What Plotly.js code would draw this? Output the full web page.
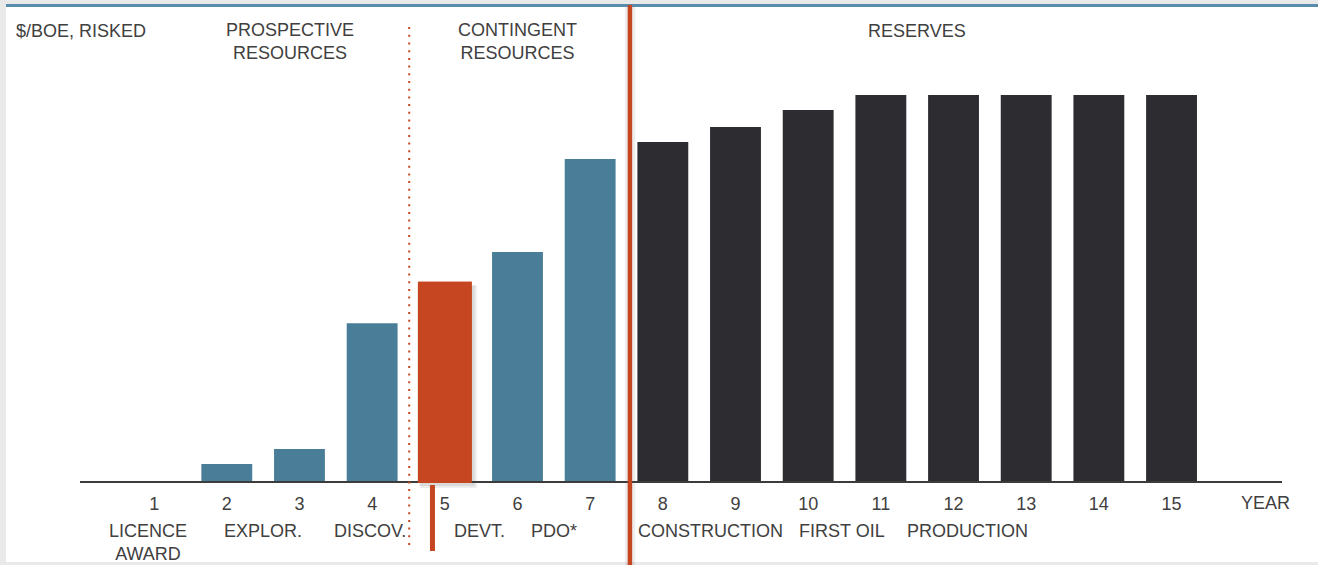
<!DOCTYPE html>
<html>
<head>
<meta charset="utf-8">
<script src="https://cdn.plot.ly/plotly-3.0.1.min.js"></script>
<style>
  html, body { margin: 0; padding: 0; background: #e9e9e9; }
  #chart { width: 1318px; height: 565px; }
</style>
</head>
<body>
<div id="chart"></div>
<script>
// Value per risked barrel over the life of a field, years 1-15
const years = [1, 2, 3, 4, 5, 6, 7, 8, 9, 10, 11, 12, 13, 14, 15];
const yearLabels = ['1', '2', '3', '4', '5', '6', '7', '8', '9', '10', '11', '12', '13', '14', '15'];
const values = [0, 4.4, 8.3, 40.9, 51.6, 59.3, 83.4, 87.8, 91.7, 96.1, 100, 100, 100, 100, 100];
const phases = ['resource', 'resource', 'resource', 'resource', 'decision', 'resource', 'resource',
                'reserve', 'reserve', 'reserve', 'reserve', 'reserve', 'reserve', 'reserve', 'reserve'];

const stageLabels = ['LICENCE<br>AWARD', 'EXPLOR.', 'DISCOV.', 'DEVT.', 'PDO*', 'CONSTRUCTION', 'FIRST OIL', 'PRODUCTION'];
const classLabels = ['PROSPECTIVE<br>RESOURCES', 'CONTINGENT<br>RESOURCES', 'RESERVES'];
const unitLabel = '$/BOE, RISKED';
const axisLabel = 'YEAR';

// ---- styling and placement ----
const W = 1318, H = 565;
const M = { l: 80, r: 36, t: 95, b: 84 };
const plotW = W - M.l - M.r, plotH = H - M.t - M.b;
const xRange = [-0.02, 16.52];
const yMax = 100;

const colors = { resource: '#4a7e98', decision: '#c54620', reserve: '#2c2c31' };
const red = '#c54620';
const textColor = '#404040';
const fontFamily = '"Liberation Sans", Arial, Helvetica, sans-serif';
const fontSize = 18;

// pixel helpers for decorations that sit outside the plotting area
const px2paperX = p => (p - M.l) / plotW;
const px2paperY = p => (M.t + plotH - p) / plotH;
const val2paperY = v => v / yMax;

const stageX = [0.91, 2.5, 3.97, 5.48, 6.5, 8.66, 10.47, 12.19];
const classX = [2.87, 6.0, 11.5];
const decisionIdx = phases.indexOf('decision');
const barHalf = 0.35;
const decisionHalf = 0.37;

const barTrace = {
  type: 'bar',
  x: years,
  y: values,
  width: years.map((_, i) => i === decisionIdx ? decisionHalf * 2 : barHalf * 2),
  marker: { color: phases.map(p => colors[p]), line: { width: 0 } },
  hoverinfo: 'x+y',
  showlegend: false
};

const txt = (text, x, y, opts) => Object.assign({
  text, x, y, showarrow: false,
  font: { family: fontFamily, size: fontSize, color: textColor },
  xanchor: 'center', yanchor: 'middle'
}, opts);

const annotations = [];
annotations.push(txt(unitLabel, px2paperX(14), px2paperY(31), { xref: 'paper', yref: 'paper', xanchor: 'left' }));
classLabels.forEach((t, i) => {
  const twoLine = t.indexOf('<br>') >= 0;
  annotations.push(txt(t, classX[i], px2paperY(twoLine ? 42 : 31), { xref: 'x', yref: 'paper' }));
});
stageLabels.forEach((t, i) => {
  const twoLine = t.indexOf('<br>') >= 0;
  annotations.push(txt(t, stageX[i], px2paperY(twoLine ? 542 : 531), { xref: 'x', yref: 'paper' }));
});
annotations.push(txt(axisLabel, 16.29, px2paperY(503), { xref: 'x', yref: 'paper' }));

const dv = years[decisionIdx];
const shapes = [
  // white card on grey page
  { type: 'rect', xref: 'paper', yref: 'paper', layer: 'below',
    x0: px2paperX(6), x1: px2paperX(W), y0: px2paperY(562), y1: px2paperY(7),
    fillcolor: '#ffffff', line: { width: 0 } },
  // blue rule along the top
  { type: 'rect', xref: 'paper', yref: 'paper', layer: 'below',
    x0: px2paperX(6), x1: px2paperX(W), y0: px2paperY(7), y1: px2paperY(4),
    fillcolor: '#5a8dab', line: { width: 0 } },
  // soft shadow of the decision bar
  { type: 'rect', xref: 'x', yref: 'paper', layer: 'below',
    x0: dv - decisionHalf + 0.03, x1: dv + decisionHalf + 0.07,
    y0: px2paperY(488), y1: val2paperY(values[decisionIdx]) - 0.008,
    fillcolor: 'rgba(0,0,0,0.07)', line: { width: 0 } },
  { type: 'rect', xref: 'x', yref: 'paper', layer: 'below',
    x0: dv - decisionHalf + 0.02, x1: dv + decisionHalf + 0.04,
    y0: px2paperY(486), y1: val2paperY(values[decisionIdx]) - 0.01,
    fillcolor: 'rgba(0,0,0,0.08)', line: { width: 0 } },
  // decision bar reaching just under the baseline
  { type: 'rect', xref: 'x', yref: 'paper', layer: 'above',
    x0: dv - decisionHalf, x1: dv + decisionHalf,
    y0: px2paperY(483), y1: val2paperY(values[decisionIdx]),
    fillcolor: red, line: { width: 0 } },
  // pointer below the decision bar
  { type: 'line', xref: 'x', yref: 'paper', layer: 'above',
    x0: 4.83, x1: 4.83, y0: px2paperY(551), y1: px2paperY(485),
    line: { color: red, width: 5 } },
  // dotted boundary prospective / contingent
  { type: 'line', xref: 'x', yref: 'paper', layer: 'above',
    x0: 4.51, x1: 4.51, y0: px2paperY(545), y1: px2paperY(22),
    line: { color: red, width: 2, dash: '2px,5.7px' } },
  // shadow of the reserves boundary
  { type: 'rect', xref: 'x', yref: 'paper', layer: 'below',
    x0: 7.48, x1: 7.62, y0: px2paperY(H), y1: px2paperY(7),
    fillcolor: 'rgba(0,0,0,0.07)', line: { width: 0 } },
  // reserves boundary
  { type: 'line', xref: 'x', yref: 'paper', layer: 'above',
    x0: 7.547, x1: 7.547, y0: px2paperY(H), y1: px2paperY(5),
    line: { color: red, width: 4.5 } }
];

const layout = {
  width: W, height: H,
  margin: M,
  paper_bgcolor: '#e9e9e9',
  plot_bgcolor: 'rgba(0,0,0,0)',
  font: { family: fontFamily, size: fontSize, color: textColor },
  bargap: 0.3,
  xaxis: {
    range: xRange, tickmode: 'array', tickvals: years, ticktext: yearLabels,
    showgrid: false, zeroline: false, showline: true, linecolor: '#3c3c3c', linewidth: 1.6,
    ticks: '', ticklabelstandoff: 6, layer: 'below traces',
    tickfont: { family: fontFamily, size: fontSize, color: textColor },
    fixedrange: true
  },
  yaxis: {
    range: [0, yMax], showgrid: false, zeroline: false, showline: false,
    showticklabels: false, ticks: '', fixedrange: true
  },
  annotations, shapes
};

Plotly.newPlot('chart', [barTrace], layout, { displayModeBar: false, staticPlot: true });
</script>
</body>
</html>
